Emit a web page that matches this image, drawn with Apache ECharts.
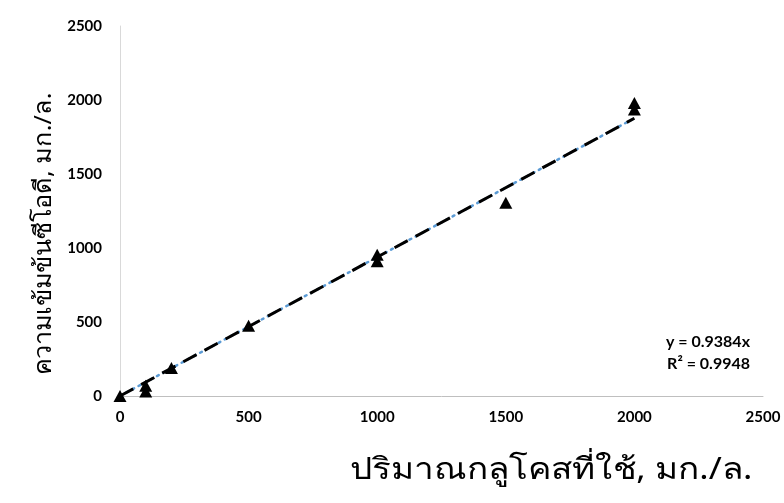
<!DOCTYPE html>
<html>
<head>
<meta charset="utf-8">
<script src="https://cdn.jsdelivr.net/npm/echarts@6/dist/echarts.min.js"></script>
<style>
  html, body { margin: 0; padding: 0; background: #ffffff; }
  #chart { width: 784px; height: 503px; }
</style>
</head>
<body>
<div id="chart"></div>
<script>
// Glucose used (mg/L) vs measured COD (mg/L)
const glucose = [0, 100, 100, 200, 500, 1000, 1000, 1500, 2000, 2000];
const cod     = [0, 70, 30, 190, 475, 955, 910, 1305, 1980, 1935];
const xTicks = [0, 500, 1000, 1500, 2000, 2500];
const yTicks = [0, 500, 1000, 1500, 2000, 2500];
const slope = 0.9384;
const rSquared = 0.9948;
const fitRange = [0, 2000];

const xTitle = 'ปริมาณกลูโคสที่ใช้, มก./ล.';
const yTitle = 'ความเข้มข้นซีโอดี, มก./ล.';

const points = glucose.map((g, i) => [g, cod[i]]);
const fitLine = fitRange.map(x => [x, slope * x]);

const chart = echarts.init(document.getElementById('chart'));
const labelFont = { fontFamily: 'Lato, "Open Sans", sans-serif', fontWeight: 'bold', fontSize: 15, color: '#000' };

chart.setOption({
  backgroundColor: '#ffffff',
  animation: false,
  grid: { left: 120, right: 21, top: 26, bottom: 107, containLabel: false },
  xAxis: {
    type: 'value', min: xTicks[0], max: xTicks[xTicks.length - 1], interval: xTicks[1] - xTicks[0],
    axisLine: { show: true, lineStyle: { color: '#bfbfbf', width: 1 } },
    axisTick: { show: false },
    splitLine: { show: false },
    axisLabel: Object.assign({ margin: 14, formatter: v => String(v) }, labelFont)
  },
  yAxis: {
    type: 'value', min: yTicks[0], max: yTicks[yTicks.length - 1], interval: yTicks[1] - yTicks[0],
    axisLine: { show: true, lineStyle: { color: '#d9d9d9', width: 1 } },
    axisTick: { show: false },
    splitLine: { show: false },
    axisLabel: Object.assign({ margin: 18, formatter: v => String(v) }, labelFont)
  },
  graphic: [
    {
      type: 'text', x: 551, y: 470, scaleX: 1.17,
      style: { text: xTitle, font: '30px "Noto Sans", sans-serif', fill: '#000', align: 'center', verticalAlign: 'middle' }
    },
    {
      type: 'text', x: 44, y: 234, rotation: Math.PI / 2, scaleX: 1.05,
      style: { text: yTitle, font: '24px "Noto Sans", sans-serif', fill: '#000', align: 'center', verticalAlign: 'middle' }
    },
    {
      type: 'text', x: 750, y: 342,
      style: { text: 'y = ' + slope + 'x', font: 'bold 16px Lato, sans-serif', fill: '#000', align: 'right', verticalAlign: 'middle' }
    },
    {
      type: 'text', x: 750, y: 364,
      style: { text: 'R² = ' + rSquared, font: 'bold 16px Lato, sans-serif', fill: '#000', align: 'right', verticalAlign: 'middle' }
    }
  ],
  series: [
    {
      name: 'trend-dots', type: 'line', data: fitLine, symbol: 'none', z: 3,
      lineStyle: { color: '#5b9bd5', width: 2.5, type: [2, 5], cap: 'round' }
    },
    {
      name: 'trend-dash', type: 'line', data: fitLine, symbol: 'none', z: 4,
      lineStyle: { color: '#000000', width: 3, type: [15, 9] }
    },
    {
      name: 'COD', type: 'scatter', data: points, symbol: 'triangle', symbolSize: [13, 12], z: 5,
      itemStyle: { color: '#000000', opacity: 1 }
    }
  ]
});
</script>
</body>
</html>
